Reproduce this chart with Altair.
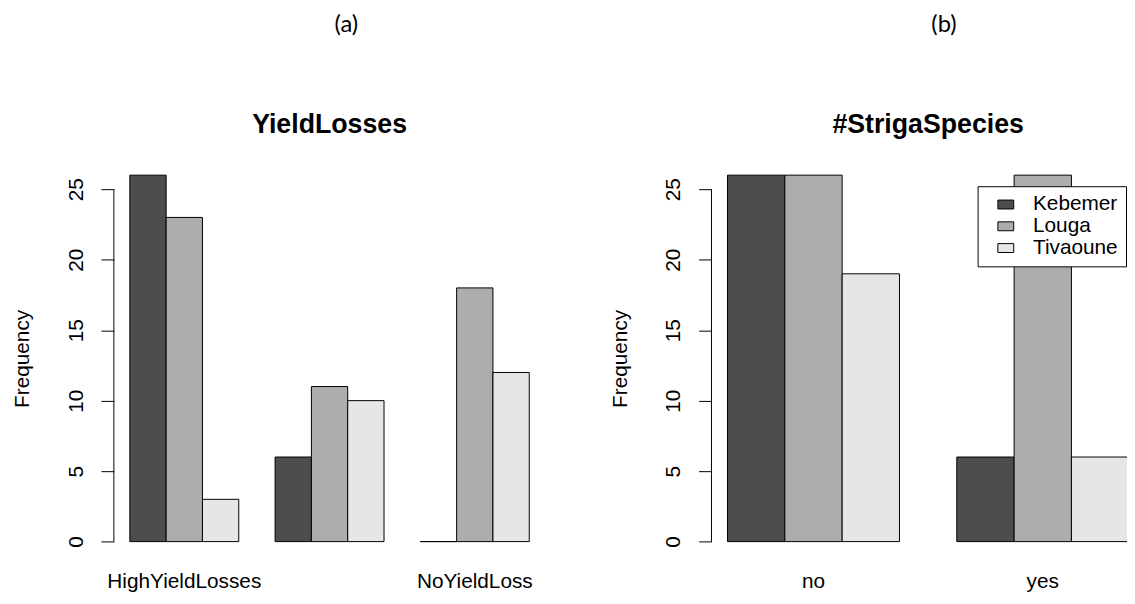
import altair as alt
import pandas as pd

# ---------------- data ----------------
regions = ["Kebemer", "Louga", "Tivaoune"]
region_colors = ["#4d4d4d", "#adadad", "#e6e6e6"]

yield_groups = ["HighYieldLosses", "LowYieldLosses", "NoYieldLoss"]
yield_kebemer = [26, 6, 0]
yield_louga = [23, 11, 18]
yield_tivaoune = [3, 10, 12]

striga_groups = ["no", "yes"]
striga_kebemer = [26, 6]
striga_louga = [26, 26]
striga_tivaoune = [19, 6]

y_ticks = [0, 5, 10, 15, 20, 25]
y_axis_span = [0, 25]
y_domain = [-1.04, 27.04]

panel_letters = ["(a)", "(b)"]
panel_titles = ["YieldLosses", "#StrigaSpecies"]
y_title = "Frequency"

FONT = "Liberation Sans"
H = 400


def long_table(groups, keb, lou, tiv):
    rows = []
    for g, a, b, c in zip(groups, keb, lou, tiv):
        rows.append({"group": g, "region": regions[0], "count": a})
        rows.append({"group": g, "region": regions[1], "count": b})
        rows.append({"group": g, "region": regions[2], "count": c})
    return pd.DataFrame(rows)


Y_AXIS = alt.Axis(values=y_ticks, domain=False, grid=False,
                  tickSize=13, tickColor="black", tickWidth=1,
                  labelAngle=270, labelAlign="center",
                  labelBaseline="alphabetic", labelPadding=19,
                  labelFont=FONT, labelFontSize=21, labelColor="black",
                  title=y_title, titleFont=FONT, titleFontSize=21,
                  titleFontWeight="normal", titleColor="black",
                  titleAngle=270, titleAlign="center",
                  titleBaseline="alphabetic", titleX=-86, titleY=200)


def panel(df, groups, letter, title, pad_outer, legend, label_expr, W):
    color_scale = alt.Scale(domain=regions, range=region_colors)
    x_axis_kw = dict(domain=False, ticks=False, labelAngle=0, labelFont=FONT,
                     labelFontSize=21, labelColor="black", labelPadding=15,
                     labelLimit=0, labelOverlap=False)
    if label_expr:
        x_axis_kw["labelExpr"] = label_expr
    y_scale = alt.Scale(domain=y_domain, nice=False)
    bars = alt.Chart(df).mark_bar(stroke="black", strokeWidth=1, opacity=1).encode(
        x=alt.X("group:N", sort=groups, title=None,
                scale=alt.Scale(paddingInner=0.25, paddingOuter=pad_outer),
                axis=alt.Axis(**x_axis_kw)),
        xOffset=alt.XOffset("region:N", sort=regions,
                            scale=alt.Scale(paddingInner=0, paddingOuter=0)),
        y=alt.Y("count:Q", scale=y_scale, title=y_title, axis=Y_AXIS),
        y2=alt.datum(0),
        color=alt.Color("region:N", scale=color_scale, legend=legend),
    )
    axis_line = alt.Chart(pd.DataFrame({"lo": [y_axis_span[0]], "hi": [y_axis_span[1]]})).mark_rule(
        color="black", strokeWidth=1).encode(
        x=alt.value(0), y=alt.Y("lo:Q", scale=y_scale, title=y_title, axis=Y_AXIS), y2="hi:Q")
    letter_txt = alt.Chart(pd.DataFrame({"t": [letter]})).mark_text(
        font="Lato", fontSize=24, baseline="alphabetic", align="center", color="black").encode(
        x=alt.value(235), y=alt.value(-130), text="t:N")
    title_txt = alt.Chart(pd.DataFrame({"t": [title]})).mark_text(
        font=FONT, fontSize=27, fontWeight="bold", baseline="alphabetic", align="center",
        color="black").encode(
        x=alt.value(W / 2), y=alt.value(-28), text="t:N")
    return alt.layer(bars, axis_line, letter_txt, title_txt).properties(width=W, height=H)


legend_b = alt.Legend(
    title=None, orient="none", legendX=269, legendY=26,
    strokeColor="black", fillColor="white", padding=8,
    symbolType="M-1,-0.5625H1V0.5625H-1Z", symbolSize=256,
    symbolStrokeColor="black", symbolStrokeWidth=1, symbolOpacity=1,
    symbolOffset=10, labelOffset=17, rowPadding=0,
    labelFont=FONT, labelFontSize=21, labelColor="black",
)

left = panel(long_table(yield_groups, yield_kebemer, yield_louga, yield_tivaoune),
             yield_groups, panel_letters[0], panel_titles[0], 0.11, None,
             "datum.value == 'LowYieldLosses' ? '' : datum.label", 436)
right = panel(long_table(striga_groups, striga_kebemer, striga_louga, striga_tivaoune),
              striga_groups, panel_letters[1], panel_titles[1], 0.07, legend_b, None, 438)

chart = alt.hconcat(left, right, spacing=168, bounds="flush").resolve_scale(
    color="independent", xOffset="independent").properties(
    padding={"left": 3, "top": 1, "right": -19, "bottom": -4}
).configure_view(stroke="transparent")

chart.save("out.html", embed_options={"renderer": "svg", "actions": False})
